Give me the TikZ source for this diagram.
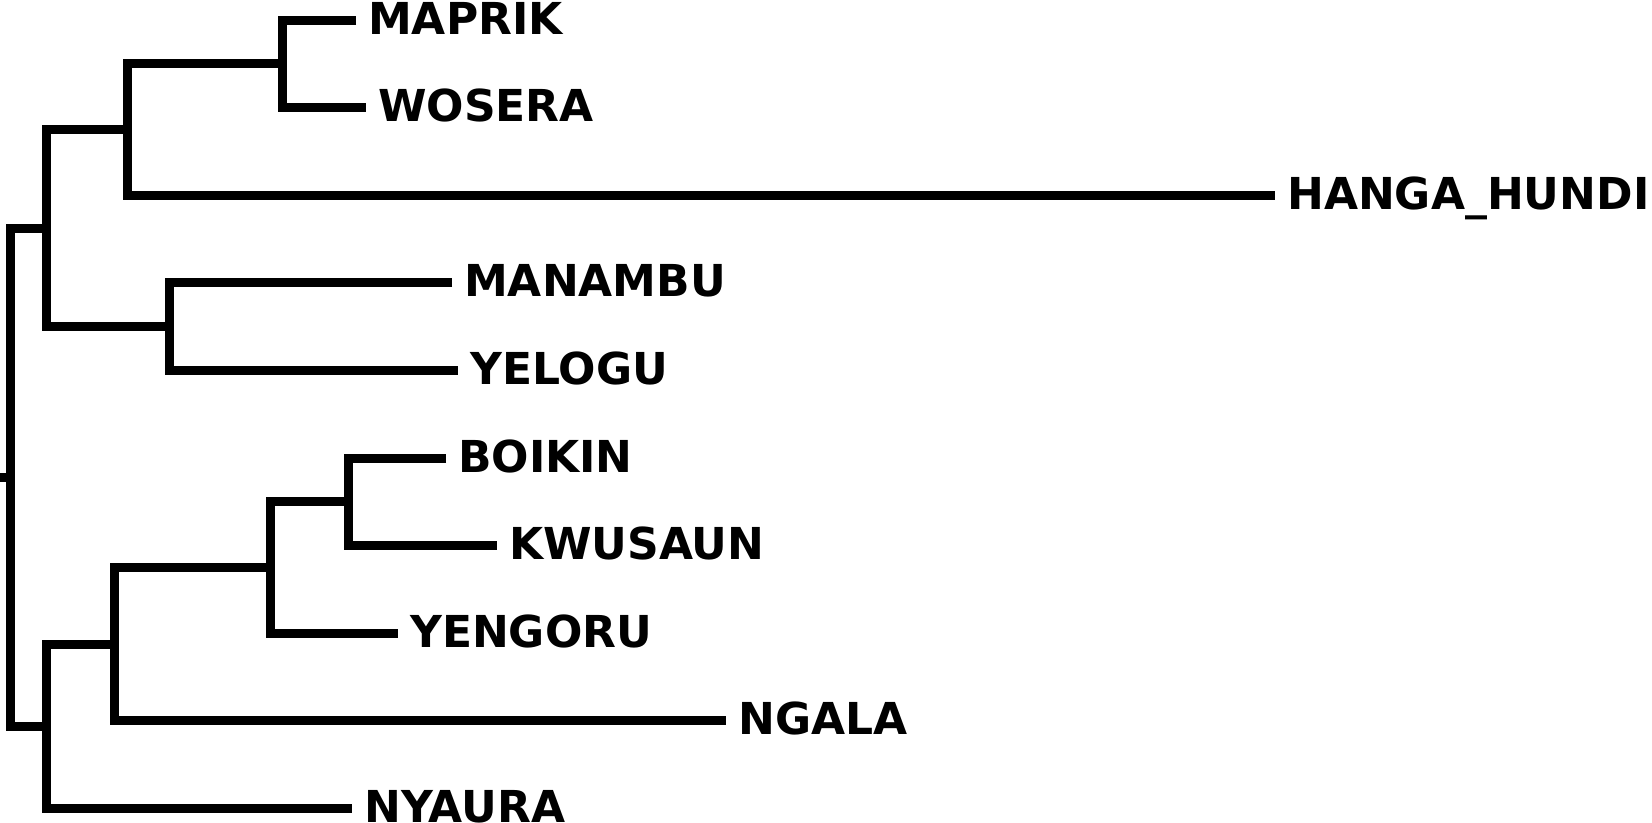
\documentclass[tikz,border=0pt]{standalone}
\usepackage{fontspec}
\setmainfont{DejaVu Sans}
\usetikzlibrary{positioning}

\begin{document}
\begin{tikzpicture}[x=1pt,y=-1pt,
    every node/.style={font=\bfseries\fontsize{44}{44}\selectfont}]
  \tikzstyle{branch}=[line width=9pt,line join=miter,line cap=butt]
  \tikzstyle{taxon}=[anchor=base west,inner sep=0pt,xshift=12pt,yshift=-14pt]
  \useasboundingbox (0,0) rectangle (1652,822);

  % Tips
  \coordinate (t1)  at (356,20);
  \coordinate (t2)  at (366,107.6);
  \coordinate (t3)  at (1275,195.2);
  \coordinate (t4)  at (452,282.8);
  \coordinate (t5)  at (458,370.4);
  \coordinate (t6)  at (446,458);
  \coordinate (t7)  at (497,545.6);
  \coordinate (t8)  at (398,633.2);
  \coordinate (t9)  at (726,720.8);
  \coordinate (t10) at (352,808.4);

  % Clades
  \coordinate (mw)   at (282,63.8);
  \coordinate (mwh)  at (127.5,129.5);
  \coordinate (my)   at (169.6,326.6);
  \coordinate (grpA) at (46.4,228);
  \coordinate (bk)   at (348.7,501.8);
  \coordinate (bky)  at (270.8,567.5);
  \coordinate (bkyn) at (114.8,644.2);
  \coordinate (grpB) at (46.4,726.3);
  \coordinate (root) at (10.5,477.1);
  \coordinate (stem) at (0,477.1);

  % Labels
  \node[taxon] (maprik)  at (t1)  {MAPRIK};
  \node[taxon] (wosera)  at (t2)  {WOSERA};
  \node[taxon] (hanga)   at (t3)  {HANGA\_HUNDI};
  \node[taxon] (manambu) at (t4)  {MANAMBU};
  \node[taxon] (yelogu)  at (t5)  {YELOGU};
  \node[taxon] (boikin)  at (t6)  {BOIKIN};
  \node[taxon] (kwusaun) at (t7)  {KWUSAUN};
  \node[taxon] (yengoru) at (t8)  {YENGORU};
  \node[taxon] (ngala)   at (t9)  {NGALA};
  \node[taxon] (nyaura)  at (t10) {NYAURA};

  % Branches
  \draw[branch] (t1) -| (mw) |- (t2);
  \draw[branch] (mw) -| (mwh) |- (t3);
  \draw[branch] (t4) -| (my) |- (t5);
  \draw[branch] (mwh) -| (grpA) |- (my);
  \draw[branch] (t6) -| (bk) |- (t7);
  \draw[branch] (bk) -| (bky) |- (t8);
  \draw[branch] (bky) -| (bkyn) |- (t9);
  \draw[branch] (bkyn) -| (grpB) |- (t10);
  \draw[branch] (grpA) -| (root) |- (grpB);
  \draw[branch] (stem) -- (root);
\end{tikzpicture}
\end{document}
